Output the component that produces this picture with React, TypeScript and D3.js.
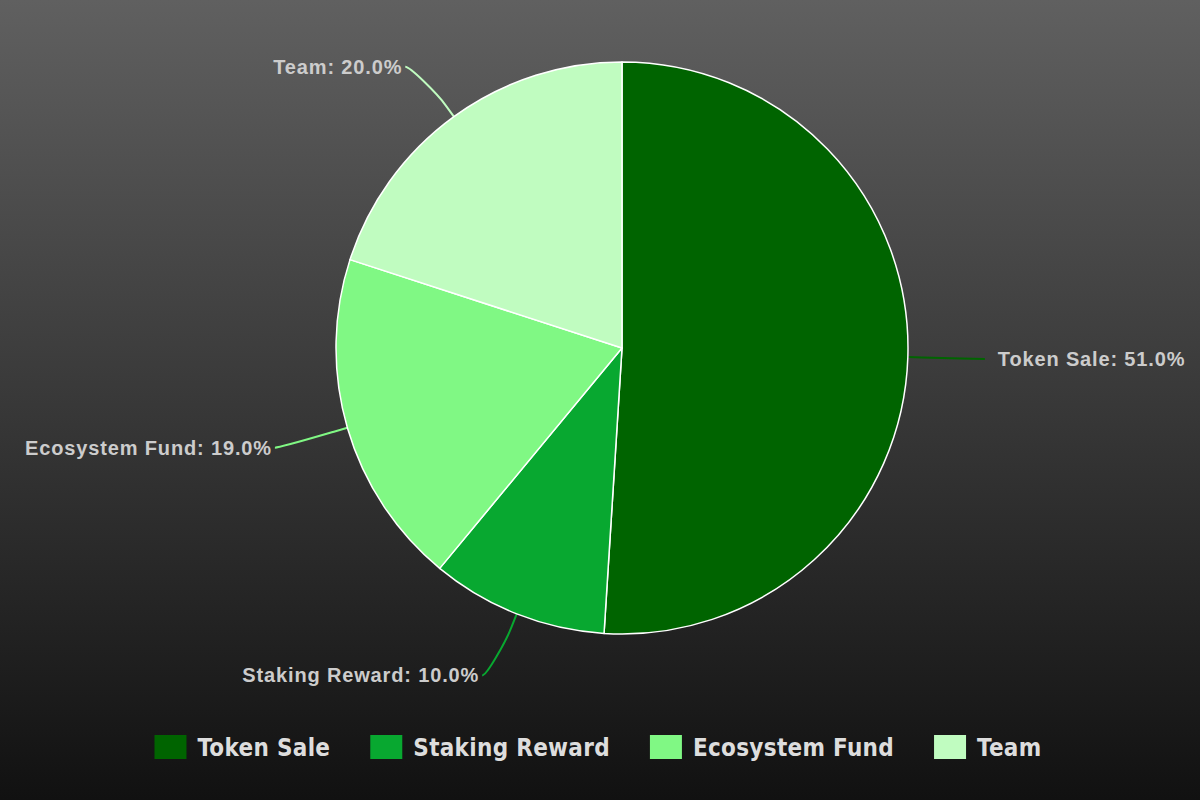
import React, { useEffect, useRef } from "react";
import * as d3 from "d3";

const categories = ["Token Sale", "Staking Reward", "Ecosystem Fund", "Team"];
const shares = [51.0, 10.0, 19.0, 20.0];
const colors = ["#006400", "#08a830", "#80f884", "#c0fcc0"];

const W = 1200;
const H = 800;

export default function App() {
  const ref = useRef<SVGSVGElement | null>(null);

  useEffect(() => {
    const svg = d3.select(ref.current);
    svg.selectAll("*").remove();

    // background gradient
    const defs = svg.append("defs");
    const grad = defs.append("linearGradient")
      .attr("id", "bg")
      .attr("x1", 0).attr("y1", 0).attr("x2", 0).attr("y2", 1);
    grad.append("stop").attr("offset", "0%").attr("stop-color", "#606060");
    grad.append("stop").attr("offset", "100%").attr("stop-color", "#111111");
    svg.append("rect").attr("width", W).attr("height", H).attr("fill", "url(#bg)");

    const cx = 622, cy = 348, r = 286;
    const data = categories.map((c, i) => ({ name: c, value: shares[i], color: colors[i] }));

    const pie = d3.pie<any>().value(d => d.value).sort(null);
    const arcs = pie(data);
    const arc = d3.arc<any>().innerRadius(0).outerRadius(r);

    const g = svg.append("g").attr("transform", `translate(${cx},${cy})`);

    // connectors + labels (soft connector, horizontal at the label end)
    const labelR = r + 64;
    arcs.forEach(a => {
      const mid = (a.startAngle + a.endAngle) / 2;
      const s = Math.sin(mid), c = -Math.cos(mid);
      const edge = [r * s, r * c];
      const brk = [(r + 14) * s, (r + 14) * c];
      const right = s >= 0;
      const lx = labelR * s + (right ? 8 : -6);
      const ly = labelR * c + (right ? 0 : 2);
      const sx = lx + (right ? 5 : -5);
      const d = `M${sx},${ly} C${lx},${ly} ${2 * brk[0] - edge[0]},${2 * brk[1] - edge[1]} ${brk[0]},${brk[1]} L${edge[0]},${edge[1]}`;
      g.append("path")
        .attr("d", d)
        .attr("fill", "none")
        .attr("stroke", a.data.color)
        .attr("stroke-width", 2);
      g.append("text")
        .attr("x", lx + (right ? 18 : -8))
        .attr("y", ly)
        .attr("dy", "0.35em")
        .attr("text-anchor", right ? "start" : "end")
        .attr("font-family", "'Liberation Sans', Arial, sans-serif")
        .attr("font-weight", "bold")
        .attr("font-size", 20)
        .attr("letter-spacing", 0.85)
        .attr("fill", "#cccccc")
        .text(`${a.data.name}: ${a.data.value.toFixed(1)}%`);
    });

    g.selectAll("path.slice")
      .data(arcs)
      .enter()
      .append("path")
      .attr("class", "slice")
      .attr("d", arc as any)
      .attr("fill", d => d.data.color)
      .attr("stroke", "#ffffff")
      .attr("stroke-width", 1.5)
      .attr("stroke-linejoin", "round");

    // legend
    const legend = svg.append("g");
    const boxW = 32, boxH = 24, gapText = 11, gapItem = 40;
    let x = 0;
    categories.forEach((c, i) => {
      const item = legend.append("g");
      item.append("rect")
        .attr("x", x).attr("y", 735)
        .attr("width", boxW).attr("height", boxH)
        .attr("fill", colors[i]);
      const t = item.append("text")
        .attr("x", x + boxW + gapText)
        .attr("y", 747)
        .attr("dy", "0.36em")
        .attr("font-family", "'DejaVu Sans Condensed', 'DejaVu Sans', sans-serif")
        .attr("font-weight", "bold")
        .attr("font-size", 24)
        .attr("letter-spacing", 0.3)
        .attr("fill", "#dddddd")
        .text(c);
      const tw = (t.node() as SVGTextElement).getComputedTextLength();
      x += boxW + gapText + tw + gapItem;
    });
    const total = x - gapItem;
    legend.attr("transform", `translate(${(W - total) / 2 - 2},0)`);
  }, []);

  return (
    <svg ref={ref} width={W} height={H} style={{ display: "block", position: "absolute", left: 0, top: 0 }} />
  );
}
